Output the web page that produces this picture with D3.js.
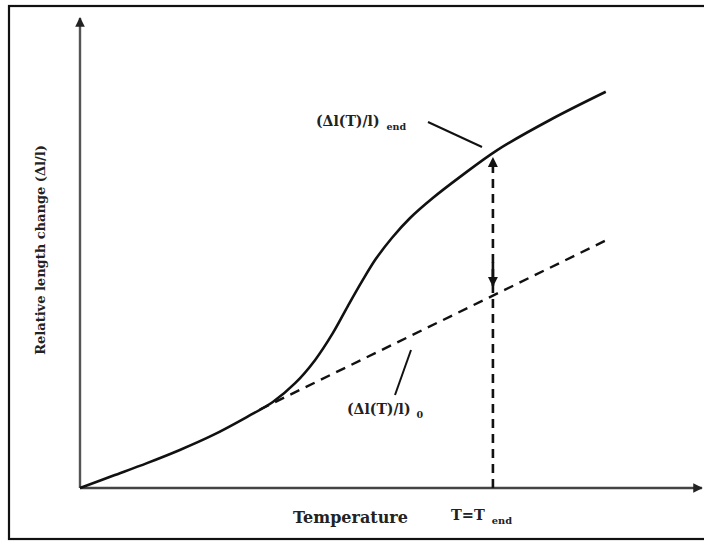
<!DOCTYPE html>
<html>
<head>
<meta charset="utf-8">
<script src="https://cdn.jsdelivr.net/npm/d3@7"></script>
<style>
  body { margin: 0; background: #fff; }
  text { font-family: "DejaVu Serif", serif; font-weight: bold; fill: #222; }
</style>
</head>
<body>
<script>
// #Data (arbitrary units: temperature 0..100, length change 0..100)
const solidT = [0, 5.3, 10.8, 16.1, 21.5, 26.9, 31.1, 34.7, 37.9, 40.8, 43.2, 45.5, 47.7, 50.3, 53.2, 56.9, 61.3, 67.3, 75.8, 84.8];
const solidV = [0, 2.6, 5.3, 8.1, 11.3, 15.1, 18.3, 22.3, 27.2, 33.0, 38.7, 44.0, 48.7, 53.2, 57.4, 61.7, 66.2, 71.9, 78.3, 84.3];
const dashT = [29.0, 84.7];
const dashV = [16.7, 52.6];
const tEnd = 66.6;
const vEndTop = 70.2;     // arrow tip on solid curve
const vEndMid = 43.0;     // arrow tip above dashed line

// #Define SVG
const width = 704, height = 541;
const svg = d3.select('body')
              .append('svg')
              .attr('width', width)
              .attr('height', height);

const x = d3.scaleLinear().domain([0, 100]).range([80, 700]);
const y = d3.scaleLinear().domain([0, 100]).range([488, 18]);

// #Frame
svg.append('rect')
   .attr('x', 9).attr('y', 6)
   .attr('width', 710).attr('height', 533)
   .attr('fill', 'none')
   .attr('stroke', '#111')
   .attr('stroke-width', 2.2);

// #Arrow markers
const defs = svg.append('defs');
const marker = (id, color) => defs.append('marker')
    .attr('id', id)
    .attr('viewBox', '0 0 10 10')
    .attr('refX', 9).attr('refY', 5)
    .attr('markerWidth', 4).attr('markerHeight', 4)
    .attr('markerUnits', 'strokeWidth')
    .attr('orient', 'auto')
  .append('path')
    .attr('d', 'M0,0L10,5L0,10z')
    .attr('fill', color);
marker('axisArrow', '#222');
marker('lineArrow', '#111');

// #Axes
svg.append('line')
   .attr('x1', x(0)).attr('y1', y(0))
   .attr('x2', x(100.3)).attr('y2', y(0))
   .attr('stroke', '#444').attr('stroke-width', 2.4)
   .attr('marker-end', 'url(#axisArrow)');
svg.append('line')
   .attr('x1', x(0)).attr('y1', y(0))
   .attr('x2', x(0)).attr('y2', y(100))
   .attr('stroke', '#555').attr('stroke-width', 2.4)
   .attr('marker-end', 'url(#axisArrow)');

// #Curves
const line = d3.line()
               .x(d => x(d[0]))
               .y(d => y(d[1]))
               .curve(d3.curveCatmullRom.alpha(0.5));

svg.append('path')
   .datum(d3.zip(dashT, dashV))
   .attr('d', d3.line().x(d => x(d[0])).y(d => y(d[1])))
   .attr('fill', 'none')
   .attr('stroke', '#111')
   .attr('stroke-width', 2.4)
   .attr('stroke-dasharray', '10,7');

svg.append('path')
   .datum(d3.zip(solidT, solidV))
   .attr('d', line)
   .attr('fill', 'none')
   .attr('stroke', '#111')
   .attr('stroke-width', 2.6);

// #Vertical dashed line at T_end
svg.append('line')
   .attr('x1', x(tEnd)).attr('y1', y(0))
   .attr('x2', x(tEnd)).attr('y2', y(vEndTop))
   .attr('stroke', '#111').attr('stroke-width', 2.6)
   .attr('stroke-dasharray', '9,6')
   .attr('marker-end', 'url(#lineArrow)');
svg.append('line')
   .attr('x1', x(tEnd)).attr('y1', y(vEndMid + 5))
   .attr('x2', x(tEnd)).attr('y2', y(vEndMid))
   .attr('stroke', '#111').attr('stroke-width', 2.6)
   .attr('marker-end', 'url(#lineArrow)');

// #Leader lines
svg.append('line')
   .attr('x1', 428).attr('y1', 122).attr('x2', 482).attr('y2', 147)
   .attr('stroke', '#111').attr('stroke-width', 2);
svg.append('line')
   .attr('x1', 395).attr('y1', 395).attr('x2', 411).attr('y2', 350)
   .attr('stroke', '#111').attr('stroke-width', 2);

// #Labels
const label = (tx, ty, main, sub, size, gap) => {
    const t = svg.append('text')
                 .attr('x', tx).attr('y', ty)
                 .style('font-size', size + 'px');
    t.append('tspan').text(main);
    if (sub) {
        t.append('tspan')
         .attr('dx', gap).attr('dy', 4)
         .style('font-size', (size * 0.68) + 'px')
         .text(sub);
    }
    return t;
};
label(316, 126, '(\u0394l(T)/l)', 'end', 14, 7);
label(347, 414, '(\u0394l(T)/l)', '0', 14, 6);
label(293, 523, 'Temperature', null, 16);
label(451, 520, 'T=T', 'end', 14.5, 7);

svg.append('text')
   .attr('transform', 'translate(45,250) rotate(-90)')
   .attr('text-anchor', 'middle')
   .style('font-size', '13px')
   .text('Relative length change (\u0394l/l)');
</script>
</body>
</html>
